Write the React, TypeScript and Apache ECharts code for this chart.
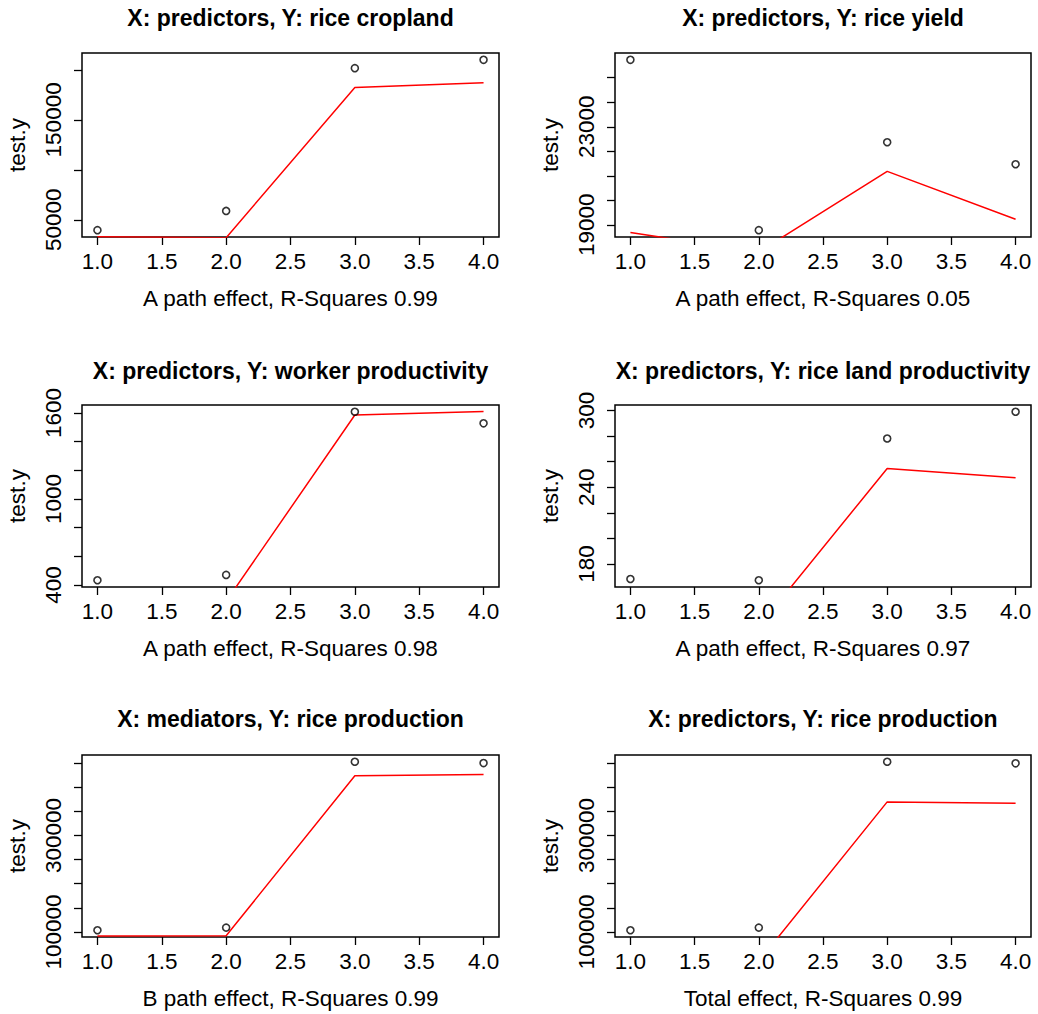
import React, { useEffect, useRef } from "react";
import * as echarts from "echarts";

const X_VALUES = [1, 2, 3, 4];
const X_TICKS = [1, 1.5, 2, 2.5, 3, 3.5, 4];

const TITLES = [
  "X: predictors, Y: rice cropland",
  "X: predictors, Y: rice yield",
  "X: predictors, Y: worker productivity",
  "X: predictors, Y: rice land productivity",
  "X: mediators, Y: rice production",
  "X: predictors, Y: rice production",
];

const X_NAMES = [
  "A path effect, R-Squares 0.99",
  "A path effect, R-Squares 0.05",
  "A path effect, R-Squares 0.98",
  "A path effect, R-Squares 0.97",
  "B path effect, R-Squares 0.99",
  "Total effect, R-Squares 0.99",
];

// observed test.y values at x = 1..4
const obsCropland = [39560, 58800, 201700, 210100];
const obsYield = [25731, 18780, 22368, 21470];
const obsWorker = [433, 470, 1609, 1528];
const obsLand = [168.3, 167.3, 278.1, 299];
const obsProdB = [103500, 109000, 452700, 450000];
const obsProdTotal = [103500, 109000, 452700, 449400];

// fitted (red) values at x = 1..4
const fitCropland = [33000, 32000, 182500, 187200];
const fitYield = [18683, 17891, 21181, 19223];
const fitWorker = [280, 286, 1586, 1611];
const fitLand = [135, 131, 254.7, 247.4];
const fitProdB = [91500, 92000, 423700, 426500];
const fitProdTotal = [40000, 39350, 369500, 366800];

// y tick positions and the labels that are printed
const ticksCropland = [50000, 100000, 150000, 200000];
const labelsCropland = [50000, 150000];
const ticksYield = [19000, 20000, 21000, 22000, 23000, 24000, 25000];
const labelsYield = [19000, 23000];
const ticksWorker = [400, 600, 800, 1000, 1200, 1400, 1600];
const labelsWorker = [400, 1000, 1600];
const ticksLand = [180, 200, 220, 240, 260, 280, 300];
const labelsLand = [180, 240, 300];
const ticksProd = [100000, 150000, 200000, 250000, 300000, 350000, 400000, 450000];
const labelsProd = [100000, 300000];

const OBS = [obsCropland, obsYield, obsWorker, obsLand, obsProdB, obsProdTotal];
const FITS = [fitCropland, fitYield, fitWorker, fitLand, fitProdB, fitProdTotal];
const YTICKS = [ticksCropland, ticksYield, ticksWorker, ticksLand, ticksProd, ticksProd];
const YLABELS = [labelsCropland, labelsYield, labelsWorker, labelsLand, labelsProd, labelsProd];

const GRIDS = [
  { left: 82, top: 53, width: 417, height: 184 },
  { left: 615, top: 53, width: 416, height: 184 },
  { left: 82, top: 405, width: 417, height: 182 },
  { left: 615, top: 405, width: 416, height: 182 },
  { left: 82, top: 755, width: 417, height: 182 },
  { left: 615, top: 755, width: 416, height: 182 },
];
const TITLE_Y = [18, 18, 371, 371, 719, 719];

const FONT = "'Liberation Sans', Arial, sans-serif";

export default function App() {
  const ref = useRef<HTMLDivElement>(null);
  useEffect(() => {
    if (!ref.current) return;
    const chart = echarts.init(ref.current, null, { renderer: "svg" });
    const grid: any[] = [];
    const xAxis: any[] = [];
    const yAxis: any[] = [];
    const series: any[] = [];
    const graphic: any[] = [];
    for (let i = 0; i < 6; i++) {
      const g = GRIDS[i];
      grid.push({
        left: g.left,
        top: g.top,
        width: g.width,
        height: g.height,
        show: true,
        borderColor: "#000",
        borderWidth: 1.5,
        backgroundColor: "transparent",
      });
      const obs = OBS[i];
      const lo = Math.min(...obs);
      const hi = Math.max(...obs);
      const r = hi - lo;
      xAxis.push({
        type: "value",
        gridIndex: i,
        min: 0.88,
        max: 4.12,
        axisLine: { show: false },
        splitLine: { show: false },
        axisTick: {
          show: true,
          length: 8,
          customValues: X_TICKS,
          lineStyle: { color: "#000", width: 1.3 },
        },
        axisLabel: {
          customValues: X_TICKS,
          formatter: (v: number) => v.toFixed(1),
          fontSize: 22.5,
          fontFamily: FONT,
          color: "#000",
          margin: 13,
        },
        name: X_NAMES[i],
        nameLocation: "middle",
        nameGap: 50,
        nameTextStyle: { fontSize: 22.5, fontFamily: FONT, color: "#000" },
      });
      yAxis.push({
        type: "value",
        gridIndex: i,
        min: lo - 0.04 * r,
        max: hi + 0.04 * r,
        axisLine: { show: false },
        splitLine: { show: false },
        axisTick: {
          show: true,
          length: 8,
          customValues: YTICKS[i],
          lineStyle: { color: "#000", width: 1.3 },
        },
        axisLabel: {
          customValues: YLABELS[i],
          formatter: (v: number) => String(v),
          rotate: 90,
          fontSize: 22.5,
          fontFamily: FONT,
          color: "#000",
          margin: 17,
        },
        name: "test.y",
        nameLocation: "middle",
        nameGap: 53,
        nameTextStyle: { fontSize: 22.5, fontFamily: FONT, color: "#000" },
      });
      series.push({
        type: "line",
        xAxisIndex: i,
        yAxisIndex: i,
        data: X_VALUES.map((x, j) => [x, FITS[i][j]]),
        symbol: "none",
        showSymbol: false,
        clip: true,
        lineStyle: { color: "#ff0000", width: 1.5 },
        z: 3,
      });
      series.push({
        type: "scatter",
        xAxisIndex: i,
        yAxisIndex: i,
        data: X_VALUES.map((x, j) => [x, obs[j]]),
        symbol: "circle",
        symbolSize: 7,
        itemStyle: { color: "rgba(0,0,0,0)", borderColor: "#000", borderWidth: 1.6 },
        z: 4,
      });
      graphic.push({
        type: "text",
        x: g.left + g.width / 2,
        y: TITLE_Y[i],
        style: {
          text: TITLES[i],
          textAlign: "center",
          textVerticalAlign: "middle",
          font: `bold 23px ${FONT}`,
          fill: "#000",
        },
      });
    }
    chart.setOption({
      animation: false,
      backgroundColor: "#fff",
      grid,
      xAxis,
      yAxis,
      series,
      graphic,
    });
    return () => chart.dispose();
  }, []);
  return (
    <div
      ref={ref}
      style={{ position: "absolute", left: 0, top: 0, width: 1038, height: 1014 }}
    />
  );
}
